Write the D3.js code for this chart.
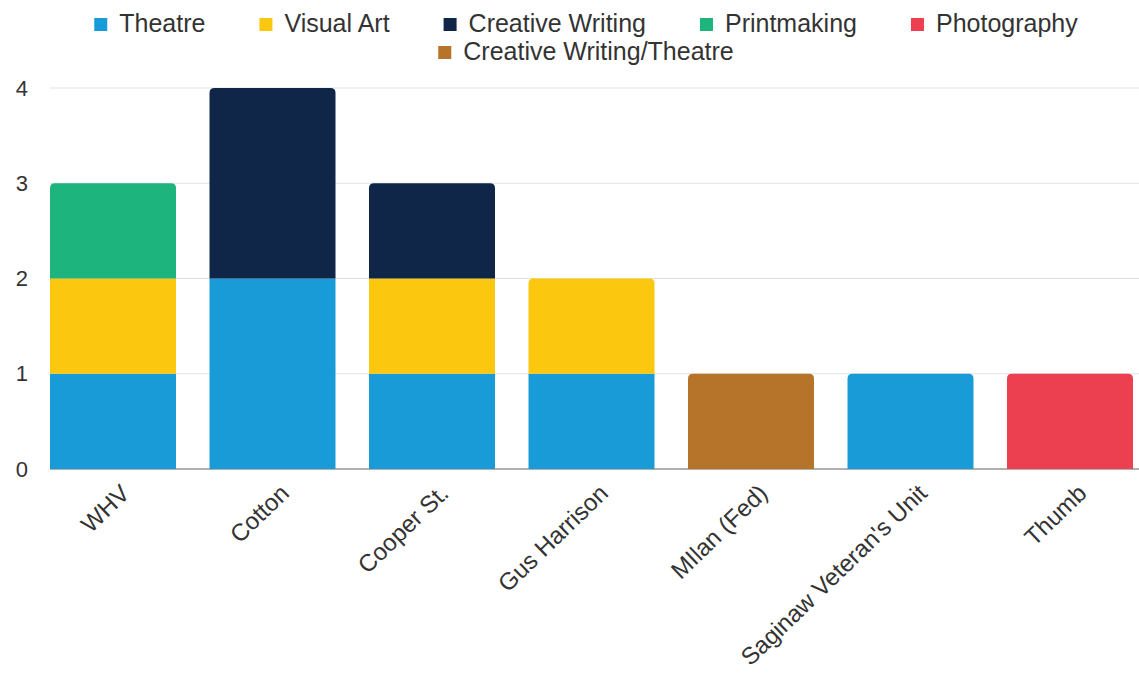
<!DOCTYPE html>
<html>
<head>
<meta charset="utf-8">
<script src="https://cdn.jsdelivr.net/npm/d3@7"></script>
<style>
  body { margin: 0; background: #fff; }
  text { font-family: "Liberation Sans", Arial, sans-serif; fill: #333; }
</style>
</head>
<body>
<div id="chart"></div>
<script>
// data
var units = ["WHV", "Cotton", "Cooper St.", "Gus Harrison", "MIlan (Fed)", "Saginaw Veteran's Unit", "Thumb"];
var seriesNames = ["Theatre", "Visual Art", "Creative Writing", "Printmaking", "Photography", "Creative Writing/Theatre"];
var theatre      = [1, 2, 1, 1, 0, 1, 0];
var visualArt    = [1, 0, 1, 1, 0, 0, 0];
var creativeWr   = [0, 2, 1, 0, 0, 0, 0];
var printmaking  = [1, 0, 0, 0, 0, 0, 0];
var photography  = [0, 0, 0, 0, 0, 0, 1];
var cwTheatre    = [0, 0, 0, 0, 1, 0, 0];
var yTicks = [0, 1, 2, 3, 4];

var colors = ["#189bd6", "#fcc70f", "#0f2649", "#1db47e", "#ec3f50", "#b5742a"];

var svgWidth = 1139;
var svgHeight = 674;

var svg = d3.select("#chart")
    .append("svg")
        .attr("width", svgWidth)
        .attr("height", svgHeight);

// build rows for the stack
var rows = units.map(function (u, i) {
    return {
        unit: u,
        "Theatre": theatre[i],
        "Visual Art": visualArt[i],
        "Creative Writing": creativeWr[i],
        "Printmaking": printmaking[i],
        "Photography": photography[i],
        "Creative Writing/Theatre": cwTheatre[i]
    };
});

var stacked = d3.stack().keys(seriesNames)(rows);

var xScale = d3.scaleBand()
    .domain(units)
    .range([50, 1133])
    .paddingInner(0.21)
    .paddingOuter(0);

var yScale = d3.scaleLinear()
    .domain([0, 4])
    .range([469, 88]);

var color = d3.scaleOrdinal().domain(seriesNames).range(colors);

// gridlines
svg.append("g")
    .selectAll("line")
    .data(yTicks)
    .join("line")
        .attr("x1", 50)
        .attr("x2", svgWidth)
        .attr("y1", function (d) { return yScale(d); })
        .attr("y2", function (d) { return yScale(d); })
        .attr("stroke", function (d) { return d === 0 ? "#b0b0b0" : "#e2e2e2"; })
        .attr("stroke-width", function (d) { return d === 0 ? 2 : 1.2; });

// y labels
var yAxis = d3.axisLeft(yScale)
    .tickValues(yTicks)
    .tickFormat(d3.format("d"))
    .tickSize(0)
    .tickPadding(0);
var yG = svg.append("g")
    .attr("transform", "translate(28, 0)")
    .call(yAxis);
yG.select(".domain").remove();
yG.selectAll("text")
    .attr("font-size", 22)
    .attr("fill", "#333")
    .attr("font-family", "Liberation Sans, Arial, sans-serif");

// totals so the top piece gets rounded corners
var totals = rows.map(function (r) {
    return d3.sum(seriesNames, function (k) { return r[k]; });
});

function segPath(x, y0, y1, w, round) {
    var r = round ? 5 : 0;
    return "M" + x + "," + y0 +
        "V" + (y1 + r) +
        (r ? "Q" + x + "," + y1 + " " + (x + r) + "," + y1 : "") +
        "H" + (x + w - r) +
        (r ? "Q" + (x + w) + "," + y1 + " " + (x + w) + "," + (y1 + r) : "") +
        "V" + y0 + "Z";
}

var bars = svg.append("g");
stacked.forEach(function (layer) {
    bars.append("g")
        .attr("fill", color(layer.key))
        .selectAll("path")
        .data(layer.filter(function (d) { return d[1] - d[0] > 0; }))
        .join("path")
            .attr("d", function (d) {
                var x = xScale(d.data.unit);
                var isTop = d[1] === totals[units.indexOf(d.data.unit)];
                return segPath(x, yScale(d[0]), yScale(d[1]), xScale.bandwidth(), isTop);
            });
});

// x labels, rotated
var xAxis = d3.axisBottom(xScale).tickSize(0).tickPadding(0);
var xG = svg.append("g")
    .attr("transform", "translate(0, 469)")
    .call(xAxis);
xG.select(".domain").remove();
xG.selectAll("text")
    .attr("font-size", 24)
    .attr("fill", "#333")
    .attr("font-family", "Liberation Sans, Arial, sans-serif")
    .attr("text-anchor", "end")
    .attr("dy", null)
    .attr("y", 0)
    .attr("transform", "translate(18, 26) rotate(-44)");

// legend, two centered rows
var legendRows = [seriesNames.slice(0, 5), seriesNames.slice(5)];
var legendY = [32, 60];
var legendCenter = 586;

legendRows.forEach(function (names, ri) {
    var g = svg.append("g");
    var x = 0;
    names.forEach(function (name) {
        var item = g.append("g").attr("transform", "translate(" + x + ",0)");
        item.append("rect")
            .attr("x", 0)
            .attr("y", legendY[ri] - 14)
            .attr("width", 13)
            .attr("height", 13)
            .attr("fill", color(name));
        var t = item.append("text")
            .attr("x", 25)
            .attr("y", legendY[ri])
            .attr("font-size", 25)
            .text(name);
        x += 25 + t.node().getComputedTextLength() + 54;
    });
    var total = x - 54;
    g.attr("transform", "translate(" + (legendCenter - total / 2) + ",0)");
});
</script>
</body>
</html>
